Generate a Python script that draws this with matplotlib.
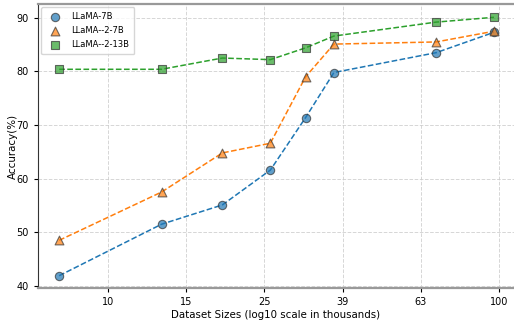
import numpy as np
import matplotlib
matplotlib.use("Agg")
import matplotlib.pyplot as plt

# dataset sizes in thousands
sizes = np.array([7.5, 13.7, 19.6, 26.0, 32.0, 37.8, 69.0, 97.0])
llama_7b = [41.9, 51.5, 55.1, 61.6, 71.4, 79.8, 83.5, 87.3]
llama2_7b = [48.5, 57.5, 64.8, 66.6, 79.0, 85.1, 85.5, 87.5]
llama2_13b = [80.4, 80.4, 82.5, 82.2, 84.4, 86.6, 89.2, 90.1]
tick_pos = [1.0, 1.2, 1.4, 1.6, 1.8, 2.0]
tick_lab = [str(int(10 ** t)) for t in tick_pos]

x = np.log10(sizes)

fig = plt.figure(figsize=(5.14, 3.24), dpi=100)
ax = fig.add_axes([0.074, 0.111, 0.926, 0.877])

ax.plot(x, llama_7b, '--', color='tab:blue', lw=1.1, zorder=2)
ax.plot(x, llama2_7b, '--', color='tab:orange', lw=1.1, zorder=2)
ax.plot(x, llama2_13b, '--', color='tab:green', lw=1.1, zorder=2)
ax.scatter(x, llama_7b, marker='o', s=36, color='tab:blue', alpha=0.7, edgecolor='#333333', lw=0.8, label='LLaMA-7B', zorder=3)
ax.scatter(x, llama2_7b, marker='^', s=40, color='tab:orange', alpha=0.7, edgecolor='#333333', lw=0.8, label='LLaMA--2-7B', zorder=3)
ax.scatter(x, llama2_13b, marker='s', s=36, color='tab:green', alpha=0.7, edgecolor='#333333', lw=0.8, label='LLaMA--2-13B', zorder=3)

ax.set_xticks(tick_pos)
ax.set_xticklabels(tick_lab)
ax.set_xlim(0.821, 2.038)
ax.set_ylim(39.6, 92.6)
ax.set_yticks([40, 50, 60, 70, 80, 90])
ax.tick_params(labelsize=7, length=3)
ax.grid(True, linestyle='--', color='#cccccc', lw=0.7, alpha=0.8)
ax.set_axisbelow(True)

for s in ['top', 'bottom']:
    ax.spines[s].set_color('#999999')
    ax.spines[s].set_linewidth(1.6)
ax.spines['left'].set_color('#333333')
ax.spines['right'].set_visible(False)

ax.set_xlabel('Dataset Sizes (log10 scale in thousands)', fontsize=7.4, labelpad=2)
ax.set_ylabel('Accuracy(%)', fontsize=7.4, labelpad=-1)
ax.legend(loc='upper left', fontsize=6, handletextpad=1.0, borderpad=0.6,
          labelspacing=0.6, borderaxespad=0.4)

fig.savefig('out.png', dpi=100)
